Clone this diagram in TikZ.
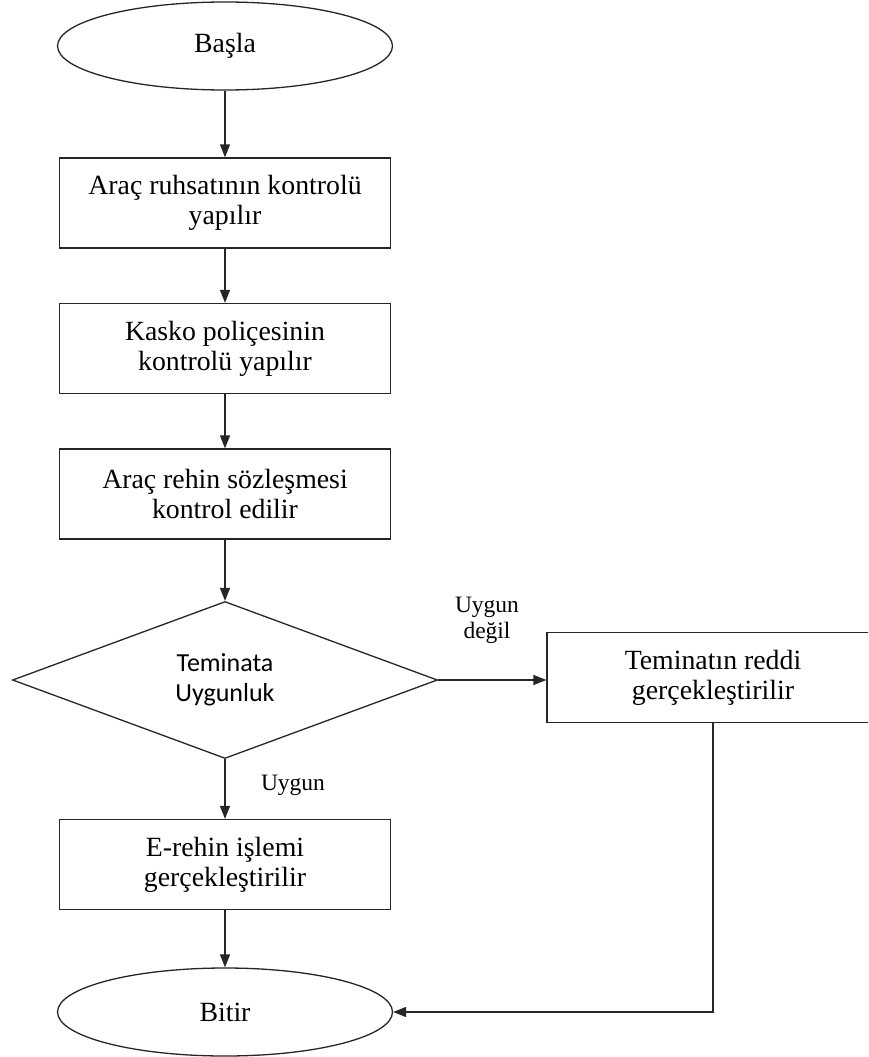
\documentclass[tikz,border=0pt]{standalone}
\usepackage{fontspec}
\setmainfont{Liberation Serif}
\newfontfamily\calib{Carlito}
\usetikzlibrary{shapes.geometric,arrows.meta}
\tikzset{
  base/.style={draw=black!85, line width=1.3pt, align=center, font=\fontsize{27.8}{30}\selectfont, inner sep=0pt},
  term/.style={base, ellipse, minimum width=335pt, minimum height=88pt},
  procbox/.style={base, rectangle, minimum width=331pt, minimum height=90pt},
  decide/.style={base, diamond, minimum width=425pt, minimum height=157pt, font=\calib\fontsize{26}{30}\selectfont},
  conn/.style={draw=black!85, line width=1.3pt, -{Triangle[length=13pt,width=10pt]}},
  lbl/.style={align=center, font=\fontsize{23.5}{26}\selectfont, inner sep=0pt}
}
\begin{document}
\begin{tikzpicture}[x=1pt,y=-1pt]
\useasboundingbox (0,0) rectangle (868,1057);
\clip (0,0) rectangle (868,1057);
\node[term] (start) at (225,46) {Başla};
\node[procbox] (b1) at (225,203) {Araç ruhsatının kontrolü\\yapılır};
\node[procbox] (b2) at (225,348.5) {Kasko poliçesinin\\kontrolü yapılır};
\node[procbox] (b3) at (225,494) {Araç rehin sözleşmesi\\kontrol edilir};
\node[decide] (d) at (225,680) {Teminata\\Uygunluk};
\node[procbox, minimum width=332pt] (rej) at (713,677.5) {Teminatın reddi\\gerçekleştirilir};
\node[procbox] (b4) at (225,864.5) {E-rehin işlemi\\gerçekleştirilir};
\node[term] (end) at (225,1012) {Bitir};
\node[lbl] (l1) at (487,620) {Uygun\\değil};
\node[lbl] (l2) at (293,785) {Uygun};
\draw[conn] (start) -- (b1);
\draw[conn] (b1) -- (b2);
\draw[conn] (b2) -- (b3);
\draw[conn] (b3) -- (d);
\draw[conn] (d.east) -- (d.east -| rej.west);
\draw[conn] (d) -- (b4);
\draw[conn] (b4) -- (end);
\draw[conn] (rej.south) |- (end.east);
\end{tikzpicture}
\end{document}
